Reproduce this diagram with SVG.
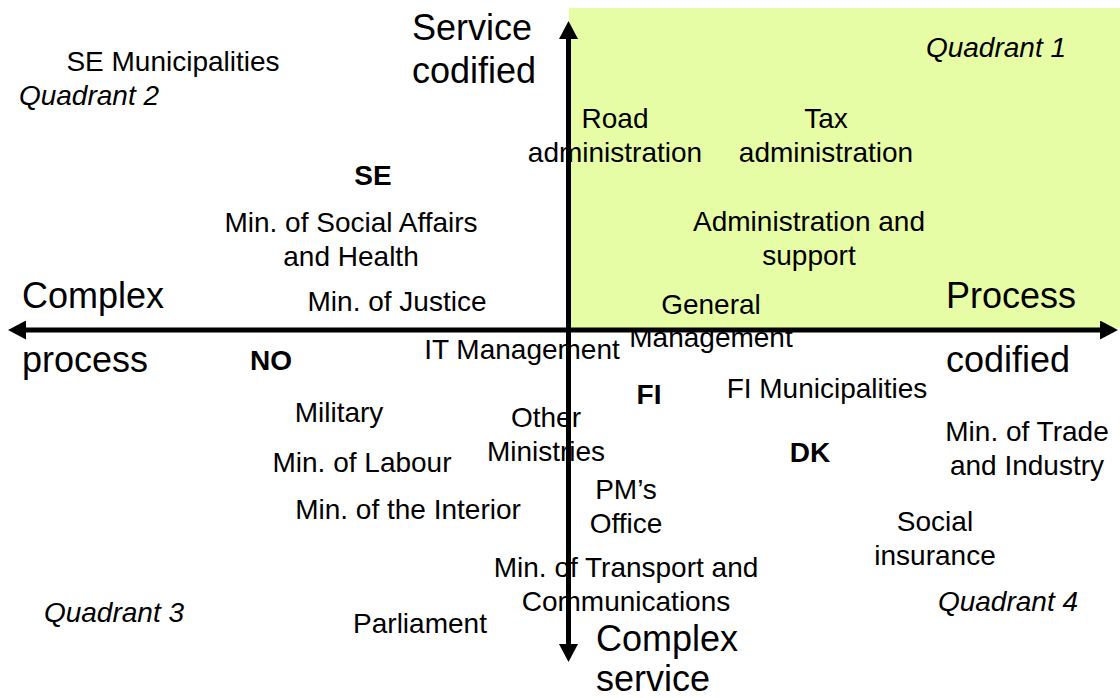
<svg xmlns="http://www.w3.org/2000/svg" width="1120" height="698" viewBox="0 0 1120 698">
<style>
text{font-family:"Liberation Sans",Arial,sans-serif;font-size:28px;fill:#000;text-anchor:middle}
.big{font-size:36px;text-anchor:start}
.q{font-style:italic}
.b{font-weight:bold}
.axis{stroke:#000;stroke-width:5;fill:none}
</style>
<defs>
<marker id="ah" markerUnits="userSpaceOnUse" viewBox="0 0 18 19" markerWidth="18" markerHeight="19" refX="1" refY="9.5" orient="auto-start-reverse">
<path d="M0,0 L18,9.5 L0,19 z" fill="#000"/>
</marker>
</defs>
<rect id="quadrant1-bg" x="569" y="8" width="551" height="320" fill="#e6fca5"/>
<g id="labels-axes">
<text class="big" x="412" y="40">Service</text>
<text class="big" x="412" y="83">codified</text>
<text class="big" x="22" y="308">Complex</text>
<text class="big" x="22" y="372">process</text>
<text class="big" x="946" y="308">Process</text>
<text class="big" x="946" y="372">codified</text>
<text class="big" x="596" y="651">Complex</text>
<text class="big" x="596" y="691">service</text>
</g>
<g id="quadrant-labels">
<text class="q" x="996" y="57">Quadrant 1</text>
<text class="q" x="89" y="105">Quadrant 2</text>
<text class="q" x="114" y="622">Quadrant 3</text>
<text class="q" x="1008" y="611">Quadrant 4</text>
</g>
<g id="node-se-municipalities"><text x="173" y="71">SE Municipalities</text></g>
<g id="node-road"><text x="615" y="128">Road</text><text x="615" y="162">administration</text></g>
<g id="node-tax"><text x="826" y="128">Tax</text><text x="826" y="162">administration</text></g>
<g id="node-se"><text class="b" x="373" y="185">SE</text></g>
<g id="node-social-affairs"><text x="351" y="232">Min. of Social Affairs</text><text x="351" y="266">and Health</text></g>
<g id="node-admin-support"><text x="809" y="231">Administration and</text><text x="809" y="265">support</text></g>
<g id="node-justice"><text x="397" y="311">Min. of Justice</text></g>
<g id="node-general-mgmt"><text x="711" y="314">General</text><text x="711" y="347">Management</text></g>
<g id="node-no"><text class="b" x="271" y="370">NO</text></g>
<g id="node-it-mgmt"><text x="522" y="359">IT Management</text></g>
<g id="node-fi-municipalities"><text x="827" y="398">FI Municipalities</text></g>
<g id="node-fi"><text class="b" x="649" y="404">FI</text></g>
<g id="node-military"><text x="339" y="422">Military</text></g>
<g id="node-other-ministries"><text x="546" y="427">Other</text><text x="546" y="461">Ministries</text></g>
<g id="node-trade"><text x="1027" y="441">Min. of Trade</text><text x="1027" y="475">and Industry</text></g>
<g id="node-dk"><text class="b" x="810" y="462">DK</text></g>
<g id="node-labour"><text x="362" y="472">Min. of Labour</text></g>
<g id="node-pm"><text x="626" y="499">PM’s</text><text x="626" y="533">Office</text></g>
<g id="node-interior"><text x="408" y="519">Min. of the Interior</text></g>
<g id="node-social-insurance"><text x="935" y="531">Social</text><text x="935" y="565">insurance</text></g>
<g id="node-transport"><text x="626" y="577">Min. of Transport and</text><text x="626" y="611">Communications</text></g>
<g id="node-parliament"><text x="420" y="633">Parliament</text></g>
<g id="connectors">
<line class="axis" x1="25" y1="330" x2="1101" y2="330" marker-start="url(#ah)" marker-end="url(#ah)"/>
<line class="axis" x1="568.5" y1="38" x2="568.5" y2="645" marker-start="url(#ah)" marker-end="url(#ah)"/>
</g>
</svg>
